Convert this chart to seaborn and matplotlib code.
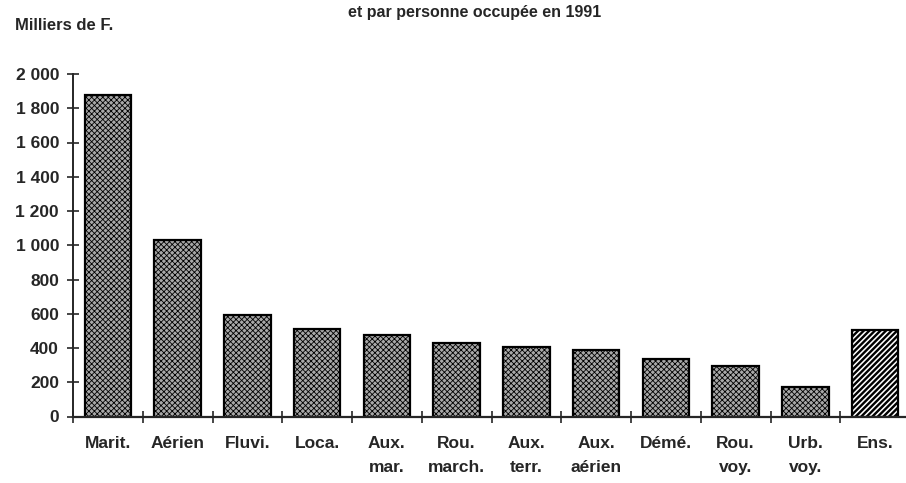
import matplotlib
import numpy as np
import pandas as pd
import seaborn as sns

matplotlib.use('Agg')
import matplotlib.pyplot as plt

# --------------------------------------------------------------------

categories = ["Marit.", "Aérien", "Fluvi.", "Loca.", "Aux.\nmar.", "Rou.\nmarch.",
              "Aux.\nterr.", "Aux.\naérien", "Démé.", "Rou.\nvoy.", "Urb.\nvoy.", "Ens."]
values = [1880, 1030, 592, 512, 477, 430, 405, 387, 335, 295, 171, 505]
y_ticks = [0, 200, 400, 600, 800, 1000, 1200, 1400, 1600, 1800, 2000]

df = pd.DataFrame({"secteur": categories, "valeur": values})

sns.set_style("ticks")
plt.rcParams['font.family'] = ['Liberation Sans', 'DejaVu Sans']
plt.rcParams['font.weight'] = 'bold'
plt.rcParams['hatch.linewidth'] = 0.6

fig = plt.figure(figsize=(9.06, 4.83), dpi=100)
ax = fig.add_axes([73 / 906, 1 - 416.5 / 483, 837 / 906, (416.5 - 74) / 483])

sns.barplot(data=df, x="secteur", y="valeur", color="#a8a8a8", width=0.67,
            edgecolor="black", linewidth=1.6, ax=ax)

for i, p in enumerate(ax.patches):
    if categories[i] == "Ens.":
        p.set_facecolor("white")
        p.set_hatch("//////")
        if hasattr(p, "set_hatch_linewidth"):
            p.set_hatch_linewidth(1.7)
    else:
        p.set_hatch("xxxxxx")

ax.set_xlim(-0.5, len(categories) - 0.5)
ax.set_ylim(0, 2000)
ax.set_yticks(y_ticks)
ax.set_yticklabels([f"{v:,}".replace(",", " ") for v in y_ticks], fontsize=12.5, fontweight='bold')

# category labels centred on bars, tick marks between bars
ax.set_xticks(range(len(categories)))
ax.set_xticklabels(categories, fontsize=12.5, fontweight='bold', linespacing=1.75, va='top')
ax.set_xticks(np.arange(-0.5, len(categories), 1), minor=True)
ax.tick_params(axis='x', which='major', length=0, pad=14)
ax.tick_params(axis='x', which='minor', direction='inout', length=8, width=1.2)
ax.tick_params(axis='y', direction='inout', length=8, width=1.2, pad=6)

ax.set_xlabel("")
ax.set_ylabel("")
sns.despine(ax=ax)
ax.spines['left'].set_linewidth(1.4)
ax.spines['bottom'].set_linewidth(1.6)

fig.text(15 / 906, 1 - 26 / 483, "Milliers de F.", fontsize=12, fontweight='bold', va='center')
fig.text(475 / 906, 1 - 17 / 483, "et par personne occupée en 1991", fontsize=11.5,
         fontweight='bold', ha='center', va='baseline')

plt.savefig("out.png", dpi=100)
